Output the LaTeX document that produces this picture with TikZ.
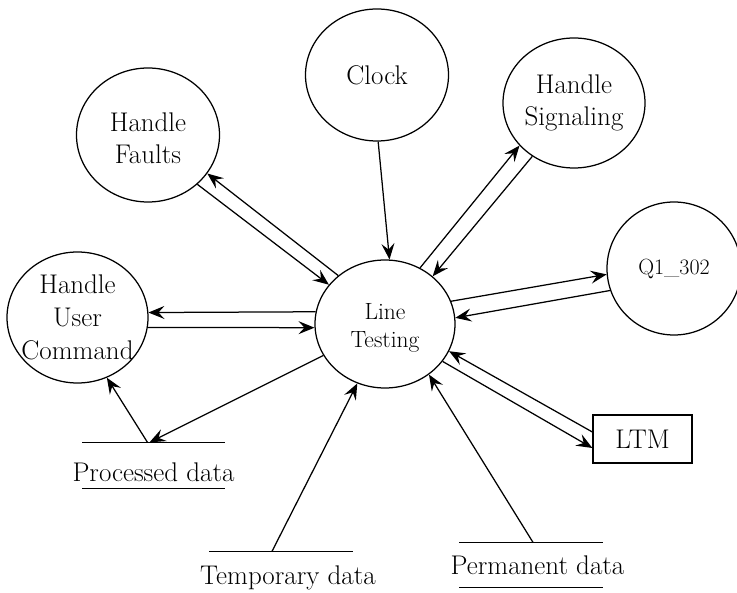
\documentclass[tikz,border=0pt]{standalone}
\usepackage{fontspec}
\usetikzlibrary{shapes.geometric,arrows.meta}
\begin{document}
\begin{tikzpicture}[x=1pt,y=-1pt,
  every path/.style={line width=1.25pt},
  proc/.style={ellipse, draw, line width=1.25pt, inner sep=0pt},
  txt/.style={align=center, inner sep=0pt, font=\fontsize{27}{32}\selectfont},
  smalltxt/.style={txt, font=\fontsize{23.5}{28}\selectfont},
  store/.style={rectangle, draw=none, inner sep=0pt, minimum height=45pt},
  flow/.style={-{Stealth[length=16pt,width=13pt,inset=6pt]}, line width=1.25pt}]
  \useasboundingbox (0,0) rectangle (737,593);

  % processes
  \node[proc, minimum width=143pt, minimum height=132pt,
        label={[txt]center:Clock}] (clock) at (377,75) {};
  \node[proc, minimum width=143pt, minimum height=134pt,
        label={[txt, yshift=-3pt]center:{Handle\\Faults}}] (hf) at (148,135) {};
  \node[proc, minimum width=142pt, minimum height=130pt,
        label={[txt]center:{Handle\\Signaling}}] (hs) at (574,103) {};
  \node[proc, minimum width=134pt, minimum height=133pt,
        label={[txt, font=\fontsize{22}{26}\selectfont]center:Q1\_302}] (q1) at (674,268.5) {};
  \node[proc, minimum width=141pt, minimum height=131pt,
        label={[txt, font=\fontsize{27}{33}\selectfont]center:{Handle\\User\\Command}}] (huc) at (77.5,317.5) {};
  \node[proc, minimum width=140pt, minimum height=128pt,
        label={[smalltxt, yshift=-4pt]center:{Line\\Testing}}] (lt) at (385,324) {};

  % terminator
  \node[draw, line width=1.25pt, minimum width=99pt, minimum height=48pt, inner sep=0pt,
        font=\fontsize{27}{32}\selectfont] (ltm) at (642.5,439) {LTM};

  % data stores
  \node[store, minimum width=141pt] (pd) at (153.5,465.5) {};
  \draw (pd.north west) -- (pd.north east);
  \draw (pd.south west) -- (pd.south east);
  \node[txt, anchor=base] (pdt) at (153.5,481.5) {Processed data};

  \node[store, minimum width=142pt] (td) at (281,574.5) {};
  \draw (td.north west) -- (td.north east);
  \node[txt, anchor=base] (tdt) at (288,585) {Temporary data};

  \node[store, minimum width=142pt, minimum height=44pt] (pmd) at (531,565) {};
  \draw (pmd.north west) -- (pmd.north east);
  \draw (pmd.south west) -- (pmd.south east);
  \node[txt, anchor=base] (pmdt) at (537.5,575) {Permanent data};

  % flows
  \draw[flow] (clock.-89) -- (lt.86);
  \draw[flow] (lt.134) -- (hf.-33);
  \draw[flow] (hf.-45) -- (lt.145);
  \draw[flow] (lt.170) -- (huc.4.5);
  \draw[flow] (huc.-8.5) -- (lt.183);
  \draw[flow] (lt.207) -- ([xshift=-4pt]pd.north);
  \draw[flow] ([xshift=-6pt]pd.north) -- (huc.-64);
  \draw[flow] ([xshift=-9pt]td.north) -- (lt.245);
  \draw[flow] ([xshift=2pt]pmd.north) -- (lt.-49);
  \draw[flow] (lt.-33) -- ([yshift=-9pt]ltm.west);
  \draw[flow] ([yshift=7pt]ltm.west) -- (lt.-23);
  \draw[flow] (lt.19.7) -- (q1.185.6);
  \draw[flow] (q1.199.9) -- (lt.5.7);
  \draw[flow] (lt.58.9) -- (hs.218.8);
  \draw[flow] (hs.232.3) -- (lt.45);
\end{tikzpicture}
\end{document}
